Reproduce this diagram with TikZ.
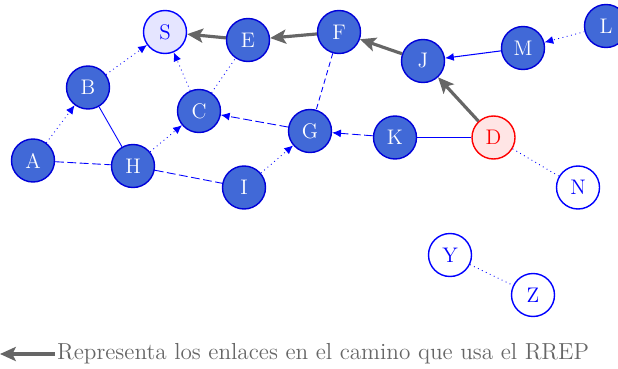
\documentclass[tikz,border=0pt]{standalone}
\usepackage{tikz}
\usetikzlibrary{arrows.meta}
\definecolor{nodoazul}{RGB}{65,105,215}
\begin{document}
\begin{tikzpicture}[
            nodo/.style={circle, draw=blue!85!black, line width=0.8pt, minimum size=0.86cm, inner sep=0pt, fill=nodoazul, text=white, font=\large},
            fuente/.style={nodo, draw=blue, fill=blue!10, text=blue},
            destino/.style={nodo, draw=red, fill=red!10, text=red},
            aislado/.style={nodo, draw=blue, fill=white, text=blue},
            enlace/.style={draw=blue, line width=0.5pt, >={Latex[length=5pt, width=4.5pt]}},
            rrep/.style={->, >={Stealth[length=9pt, width=8pt, inset=2pt]}, black!60, line width=1.8pt}
        ]
            \useasboundingbox (0,0) rectangle (12.36,-7.36);
            % nodos de la red
            \node[fuente] (S) at (3.30,-0.64) {S};
            \node[nodo] (E) at (4.96,-0.80) {E};
            \node[nodo] (F) at (6.78,-0.64) {F};
            \node[nodo] (J) at (8.46,-1.22) {J};
            \node[nodo] (M) at (10.46,-0.96) {M};
            \node[nodo] (L) at (12.12,-0.52) {L};
            \node[nodo] (B) at (1.76,-1.75) {B};
            \node[nodo] (C) at (3.98,-2.22) {C};
            \node[nodo] (G) at (6.20,-2.62) {G};
            \node[nodo] (K) at (7.90,-2.75) {K};
            \node[destino] (D) at (9.87,-2.75) {D};
            \node[aislado] (N) at (11.56,-3.75) {N};
            \node[nodo] (A) at (0.66,-3.21) {A};
            \node[nodo] (H) at (2.66,-3.32) {H};
            \node[nodo] (I) at (4.88,-3.75) {I};
            \node[aislado] (Y) at (9.00,-5.10) {Y};
            \node[aislado] (Z) at (10.66,-5.90) {Z};

            % enlaces
            \draw[enlace, dotted, ->] (A) -- (B);
            \draw[enlace, dotted, ->] (B) -- (S);
            \draw[enlace] (B) -- (H);
            \draw[enlace, dash pattern=on 5pt off 2pt] (A) -- (H);
            \draw[enlace, dotted, ->] (H) -- (C);
            \draw[enlace, dash pattern=on 5pt off 2pt] (H) -- (I);
            \draw[enlace, dotted, ->] (I) -- (G);
            \draw[enlace, dash pattern=on 5pt off 2pt, ->] (G) -- (C);
            \draw[enlace, dotted, ->] (C) -- (S);
            \draw[enlace, dotted] (C) -- (E);
            \draw[enlace, densely dashed] (F) -- (G);
            \draw[enlace, dash pattern=on 5pt off 2pt, ->] (K) -- (G);
            \draw[enlace, line width=0.6pt] (D) -- (K);
            \draw[enlace, dotted] (D) -- (N);
            \draw[enlace, line width=0.6pt, ->] (M) -- (J);
            \draw[enlace, dotted, ->] (L) -- (M);
            \draw[enlace, dotted] (Y) -- (Z);

            % camino del RREP
            \draw[rrep] (E) -- (S);
            \draw[rrep] (F) -- (E);
            \draw[rrep] (J) -- (F);
            \draw[rrep] (D) -- (J);

            % leyenda
            \node[anchor=west, text=black!60, font=\fontsize{13.2}{16}\selectfont, inner sep=1pt] (ley) at (1.10,-7.08) {Representa los enlaces en el camino que usa el RREP};
            \coordinate (flecha) at (0,-7.08);
            \draw[rrep] (ley.west) -- (flecha);
        \end{tikzpicture}
\end{document}
